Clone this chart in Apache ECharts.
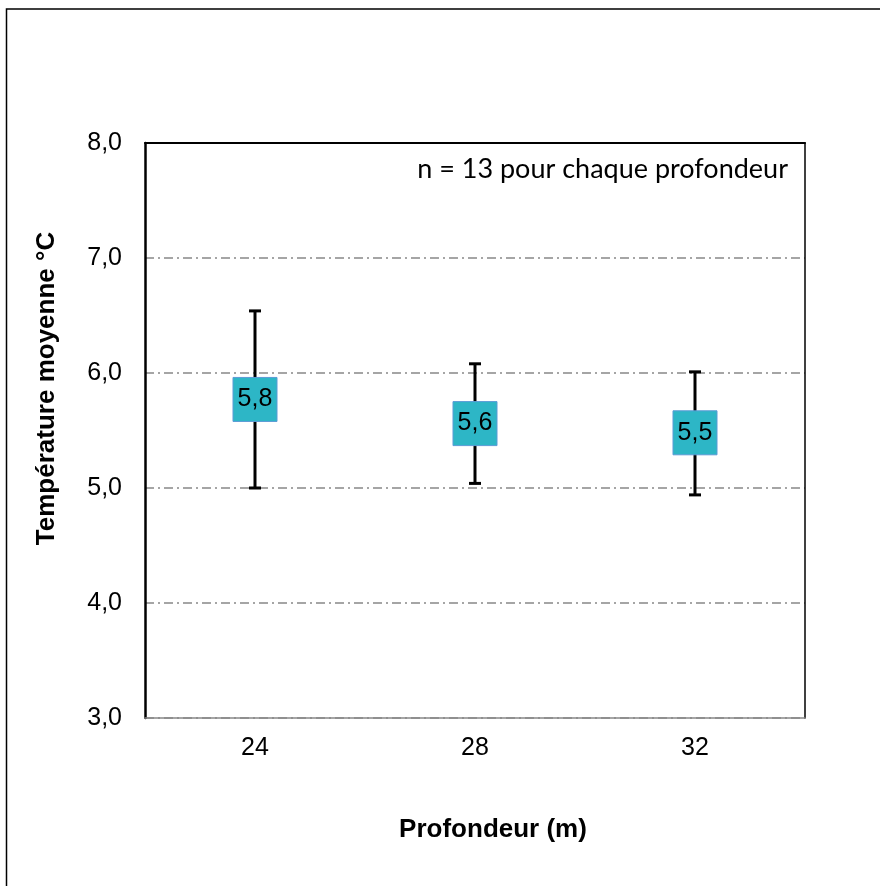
<!DOCTYPE html>
<html>
<head>
<meta charset="utf-8">
<script src="https://cdn.jsdelivr.net/npm/echarts@6/dist/echarts.min.js"></script>
<style>
  html, body { margin: 0; padding: 0; background: #fff; }
  #chart { width: 880px; height: 886px; }
</style>
</head>
<body>
<div id="chart"></div>
<script>
var categories = ['24', '28', '32'];
var means = [5.77, 5.56, 5.48];
var lows = [5.00, 5.04, 4.94];
var highs = [6.54, 6.08, 6.01];
var meanLabels = ['5,8', '5,6', '5,5'];
var yTicks = { min: 3, max: 8, interval: 1 };

var chart = echarts.init(document.getElementById('chart'));

var errData = categories.map(function (c, i) { return [i, lows[i], highs[i]]; });

var option = {
  animation: false,
  backgroundColor: '#fff',
  textStyle: { fontFamily: 'Liberation Sans, Arial, sans-serif' },
  grid: { left: 145, right: 75, top: 143, bottom: 168 },
  graphic: [
    {
      type: 'rect', silent: true,
      shape: { x: 6.5, y: 9, width: 900, height: 900 },
      style: { fill: 'none', stroke: '#000', lineWidth: 1.5 }
    },
    {
      type: 'text', right: 92, top: 156,
      style: {
        text: 'n = 13 pour chaque profondeur',
        font: '27px Lato, "Open Sans", sans-serif', fill: '#000'
      }
    }
  ],
  xAxis: [
    {
      type: 'category',
      data: categories,
      boundaryGap: true,
      name: 'Profondeur (m)',
      nameLocation: 'middle',
      nameGap: 99,
      nameTextStyle: { fontSize: 26, fontWeight: 'bold', color: '#000', padding: [0, 0, 0, 36] },
      axisLine: { show: true, lineStyle: { color: '#888', width: 1.5 } },
      axisTick: { show: false },
      axisLabel: { fontSize: 25, color: '#000', margin: 18 },
      splitLine: { show: false }
    },
    {
      type: 'category',
      data: categories,
      position: 'top',
      axisLine: { show: true, lineStyle: { color: '#000', width: 2 } },
      axisTick: { show: false },
      axisLabel: { show: false },
      splitLine: { show: false }
    }
  ],
  yAxis: [
    {
      type: 'value',
      min: yTicks.min, max: yTicks.max, interval: yTicks.interval,
      name: 'Température moyenne °C',
      nameLocation: 'middle',
      nameGap: 85,
      nameTextStyle: { fontSize: 26, fontWeight: 'bold', color: '#000', padding: [0, 0, 0, 84] },
      axisLine: { show: true, lineStyle: { color: '#000', width: 2.5 } },
      axisTick: { show: false },
      axisLabel: {
        fontSize: 25, color: '#000', margin: 23,
        formatter: function (v) { return v.toFixed(1).replace('.', ','); }
      },
      splitLine: {
        show: true,
        lineStyle: { color: '#888', width: 1.5, type: [9, 4, 2, 4] }
      }
    },
    {
      type: 'value',
      min: yTicks.min, max: yTicks.max, interval: yTicks.interval,
      position: 'right',
      axisLine: { show: true, lineStyle: { color: '#000', width: 1.5 } },
      axisTick: { show: false },
      axisLabel: { show: false },
      splitLine: { show: false }
    }
  ],
  series: [
    {
      type: 'custom',
      data: errData,
      z: 2,
      renderItem: function (params, api) {
        var x = api.value(0);
        var lo = api.coord([x, api.value(1)]);
        var hi = api.coord([x, api.value(2)]);
        var cap = 6;
        var st = { stroke: '#000', lineWidth: 3 };
        return {
          type: 'group',
          children: [
            { type: 'line', shape: { x1: hi[0], y1: hi[1], x2: lo[0], y2: lo[1] }, style: st },
            { type: 'line', shape: { x1: hi[0] - cap, y1: hi[1], x2: hi[0] + cap, y2: hi[1] }, style: st },
            { type: 'line', shape: { x1: lo[0] - cap, y1: lo[1], x2: lo[0] + cap, y2: lo[1] }, style: st }
          ]
        };
      }
    },
    {
      type: 'scatter',
      data: means,
      z: 3,
      symbol: 'rect',
      symbolSize: 44,
      itemStyle: { color: '#2DB6C6', borderColor: '#5B9BD5', borderWidth: 1, opacity: 1 },
      label: {
        show: true, position: 'inside', fontSize: 25, color: '#000',
        formatter: function (p) { return meanLabels[p.dataIndex]; }
      }
    }
  ]
};

chart.setOption(option);
</script>
</body>
</html>
